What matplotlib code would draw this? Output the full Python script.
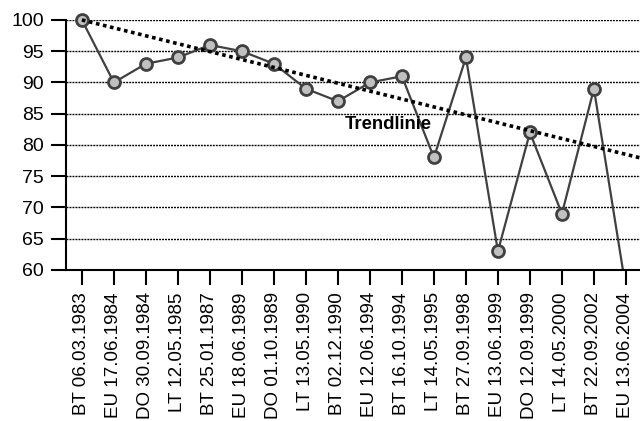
import matplotlib
matplotlib.use("Agg")
import matplotlib.pyplot as plt
from matplotlib.patches import Rectangle
import numpy as np

plt.rcParams['font.family'] = ['Liberation Sans', 'DejaVu Sans']

# Wahltermine und Werte
labels = ["BT 06.03.1983", "EU 17.06.1984", "DO 30.09.1984", "LT 12.05.1985",
          "BT 25.01.1987", "EU 18.06.1989", "DO 01.10.1989", "LT 13.05.1990",
          "BT 02.12.1990", "EU 12.06.1994", "BT 16.10.1994", "LT 14.05.1995",
          "BT 27.09.1998", "EU 13.06.1999", "DO 12.09.1999", "LT 14.05.2000",
          "BT 22.09.2002", "EU 13.06.2004"]
values = [100, 90, 93, 94, 96, 95, 93, 89, 87, 90, 91, 78, 94, 63, 82, 69, 89, 57]

# Trendlinie: Werte am ersten und letzten Termin
trend_ends = [100.0, 78.5]

y_ticks = [60, 65, 70, 75, 80, 85, 90, 95, 100]

fig = plt.figure(figsize=(6.4, 4.21), dpi=100)
ax = fig.add_axes([0.103, 0.3587, 0.9, 0.5938])

x = np.arange(len(values))
ax.set_xlim(-0.5, len(values) - 0.5)
ax.set_ylim(60, 100)

# dotted horizontal grid
for yv in y_ticks[1:]:
    ax.axhline(yv, color='black', lw=1.0, ls=(0, (1.4, 0.75)), zorder=1)

# clip only at the bottom and sides so the top marker stays whole
clip = Rectangle((0, 0), 1, 1.2, transform=ax.transAxes, facecolor='none',
                 edgecolor='none')
ax.add_patch(clip)

line, = ax.plot(x, values, color='#404040', lw=1.6, marker='o', markersize=8.6,
                markerfacecolor='#c0c0c0', markeredgecolor='#404040',
                markeredgewidth=2.0, zorder=3)
line.set_clip_path(clip)

# linear trend from first to last date, extended to the plot edge
slope = (trend_ends[1] - trend_ends[0]) / (len(values) - 1)
tx = np.array([0, len(values) - 0.5])
trend, = ax.plot(tx, trend_ends[0] + slope * tx, color='black', lw=2.6,
                 ls=(0, (1, 1)), zorder=4)
trend.set_clip_path(clip)

ax.text(9.56, 83.2, "Trendlinie", fontsize=13.3, fontweight='bold',
        ha='center', va='center', zorder=5)

ax.set_yticks(y_ticks)
ax.set_yticklabels([str(v) for v in y_ticks], fontsize=14)
ax.set_xticks(x)
ax.set_xticklabels(labels, rotation=90, fontsize=13.5, va='top', ha='center')
ax.tick_params(axis='both', direction='out', length=11, width=1.5,
               color='black', pad=5)

for s in ['top', 'right']:
    ax.spines[s].set_visible(False)
for s in ['left', 'bottom']:
    ax.spines[s].set_linewidth(1.5)
    ax.spines[s].set_zorder(6)

fig.savefig("out.png", dpi=100)
